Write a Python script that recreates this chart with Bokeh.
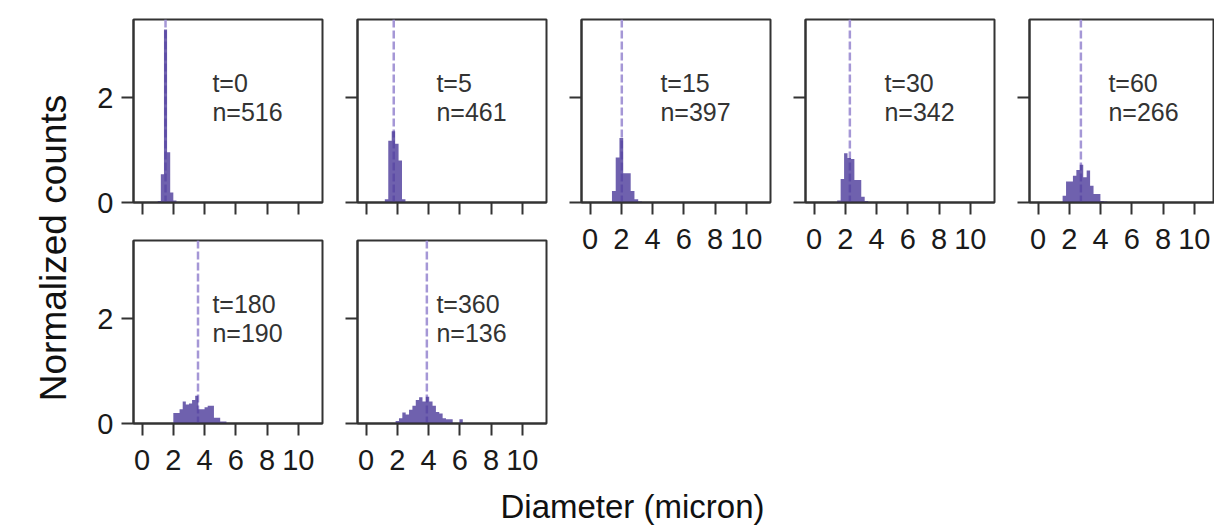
import math
from bokeh.plotting import figure
from bokeh.layouts import row, column
from bokeh.models import Span, FixedTicker, Range1d
from bokeh.embed import file_html
from bokeh.resources import INLINE
from bokeh.core.properties import value

# ---------------- data ----------------
times = [0, 5, 15, 30, 60, 180, 360]
n_cells = [516, 461, 397, 342, 266, 190, 136]
median_diam = [1.50, 1.77, 2.03, 2.29, 2.74, 3.58, 3.89]
bin_start = [1.0, 1.2, 1.4, 1.48, 1.57, 2.0, 1.89]
bin_width = [0.2, 0.22, 0.24, 0.22, 0.22, 0.2, 0.215]

dens_t0 = [0.03, 0.54, 3.30, 0.96, 0.19, 0.04]
dens_t5 = [0.06, 1.18, 1.36, 1.12, 0.80, 0.06]
dens_t15 = [0.22, 0.86, 1.23, 0.56, 0.56, 0.22, 0.06, 0.02]
dens_t30 = [0.04, 0.45, 0.94, 0.85, 0.83, 0.43, 0.43, 0.11, 0.03]
dens_t60 = [0.13, 0.40, 0.40, 0.51, 0.62, 0.72, 0.48, 0.61, 0.32, 0.16, 0.16, 0.03, 0.02]
dens_t180 = [0.20, 0.20, 0.27, 0.42, 0.36, 0.38, 0.45, 0.53, 0.27, 0.27, 0.31, 0.34, 0.34,
             0.11, 0.11, 0.04, 0.04]
dens_t360 = [0.05, 0.10, 0.21, 0.17, 0.26, 0.34, 0.45, 0.50, 0.42, 0.51, 0.42, 0.34, 0.22,
             0.19, 0.10, 0.08, 0.08, 0.0, 0.0, 0.08]
densities = [dens_t0, dens_t5, dens_t15, dens_t30, dens_t60, dens_t180, dens_t360]

x_ticks = [0, 2, 4, 6, 8, 10]
y_ticks = [0, 2]
x_title = "Diameter (micron)"
y_title = "Normalized counts"

# ---------------- style ----------------
FONT = "Liberation Sans"
BAR = "#4b3a9a"
MED = "#a597d6"
SPINE = "#333333"
X0, X1 = -0.55, 11.55
FRAME_W, FRAME_H = 189, 183
PXU = FRAME_W / (X1 - X0)


def make_panel(k, frame_w, left, right, top, bottom, xlabels, ylabels):
    x_end = X0 + frame_w / PXU
    p = figure(frame_width=frame_w, frame_height=FRAME_H,
               x_range=Range1d(X0, x_end), y_range=Range1d(0, 3.49),
               toolbar_location=None, output_backend="svg",
               min_border_left=left, min_border_right=right,
               min_border_top=top, min_border_bottom=bottom,
               background_fill_color="white", border_fill_color="white")
    p.grid.visible = False
    p.outline_line_color = SPINE
    p.outline_line_width = 2
    p.outline_line_alpha = 1.0

    dens = densities[k]
    edges = [bin_start[k] + i * bin_width[k] for i in range(len(dens) + 1)]
    p.add_layout(Span(location=median_diam[k], dimension="height", line_color=MED,
                      line_width=2.5, line_dash="8 3", level="underlay"))
    p.varea_step(x=edges, y1=[0] * len(edges), y2=dens + [0], step_mode="after",
                 fill_color=BAR, fill_alpha=0.8)

    p.text(x=[4.5], y=[2.27], text=[f"t={times[k]}"], text_font=value(FONT),
           text_font_size="25px", text_color="#333333", text_baseline="alphabetic")
    p.text(x=[4.5], y=[1.73], text=[f"n={n_cells[k]}"], text_font=value(FONT),
           text_font_size="25px", text_color="#333333", text_baseline="alphabetic")

    p.xaxis.ticker = FixedTicker(ticks=x_ticks)
    p.yaxis.ticker = FixedTicker(ticks=y_ticks)
    for ax, show, standoff in ((p.xaxis[0], xlabels, 14), (p.yaxis[0], ylabels, 8)):
        ax.axis_line_color = SPINE
        ax.axis_line_width = 2
        ax.major_tick_line_color = SPINE
        ax.major_tick_line_width = 2
        ax.major_tick_out = 12
        ax.major_tick_in = 0
        ax.minor_tick_line_color = None
        ax.major_label_text_font = FONT
        if show:
            ax.major_label_text_color = "#1a1a1a"
            ax.major_label_text_font_size = "29px"
        else:
            ax.major_label_text_color = None
            ax.major_label_text_font_size = "1px"
        ax.major_label_standoff = standoff
    return p


TOP1, BOT1, TOP2, BOT2 = 19, 20, 18, 62
p0 = make_panel(0, FRAME_W, 55, 12, TOP1, BOT1, False, True)
p180 = make_panel(5, FRAME_W, 55, 12, TOP2, BOT2, True, True)
p5 = make_panel(1, FRAME_W, 23, 12, TOP1, BOT1, False, False)
p360 = make_panel(6, FRAME_W, 23, 12, TOP2, BOT2, True, False)
p15 = make_panel(2, FRAME_W, 23, 12, TOP1, 80, True, False)
p30 = make_panel(3, FRAME_W, 23, 12, TOP1, 80, True, False)
p60 = make_panel(4, 185, 23, 0, TOP1, 80, True, False)

TOP_H = TOP1 + FRAME_H + BOT1 + TOP2 + FRAME_H + BOT2   # 485

# y title: the axis label of a thin strip whose frame is centred on the title's position
YL_W = 78
YL_TOP, YL_FRAME = 19, 457
ylab = figure(frame_width=1, frame_height=YL_FRAME, x_range=Range1d(0, 1), y_range=Range1d(0, 1),
              x_axis_location=None, y_axis_location="left", toolbar_location=None,
              output_backend="svg", min_border_left=YL_W - 1, min_border_right=0,
              min_border_top=YL_TOP, min_border_bottom=TOP_H - YL_TOP - YL_FRAME,
              outline_line_color=None, background_fill_color="white",
              border_fill_color="white")
ylab.grid.visible = False
yax = ylab.yaxis[0]
yax.ticker = FixedTicker(ticks=[])
yax.axis_line_color = None
yax.major_tick_line_color = None
yax.minor_tick_line_color = None
yax.major_tick_out = 0
yax.major_label_text_color = None
yax.major_label_text_font_size = "1px"
yax.major_label_standoff = 0
yax.axis_label = y_title
yax.axis_label_standoff = 4
yax.axis_label_text_font = FONT
yax.axis_label_text_font_style = "normal"
yax.axis_label_text_font_size = "37px"
yax.axis_label_text_color = "#111111"

XL_W, XL_H = 1214, 527 - TOP_H
xlab = figure(width=XL_W, height=XL_H, x_range=Range1d(0, XL_W), y_range=Range1d(0, XL_H),
              x_axis_location=None, y_axis_location=None, toolbar_location=None,
              output_backend="svg", min_border=0, outline_line_color=None)
xlab.grid.visible = False
xlab.text(x=[632], y=[XL_H / 2], text=[x_title], text_align="center",
          text_baseline="middle", text_font=value(FONT), text_font_size="33px",
          text_color="#111111")

col1 = column(p0, p180, spacing=0)
col2 = column(p5, p360, spacing=0)
top_row = row(ylab, col1, col2, p15, p30, p60, spacing=0)
page = column(top_row, xlab, spacing=0)

open("out.html", "w").write(file_html(page, INLINE))
